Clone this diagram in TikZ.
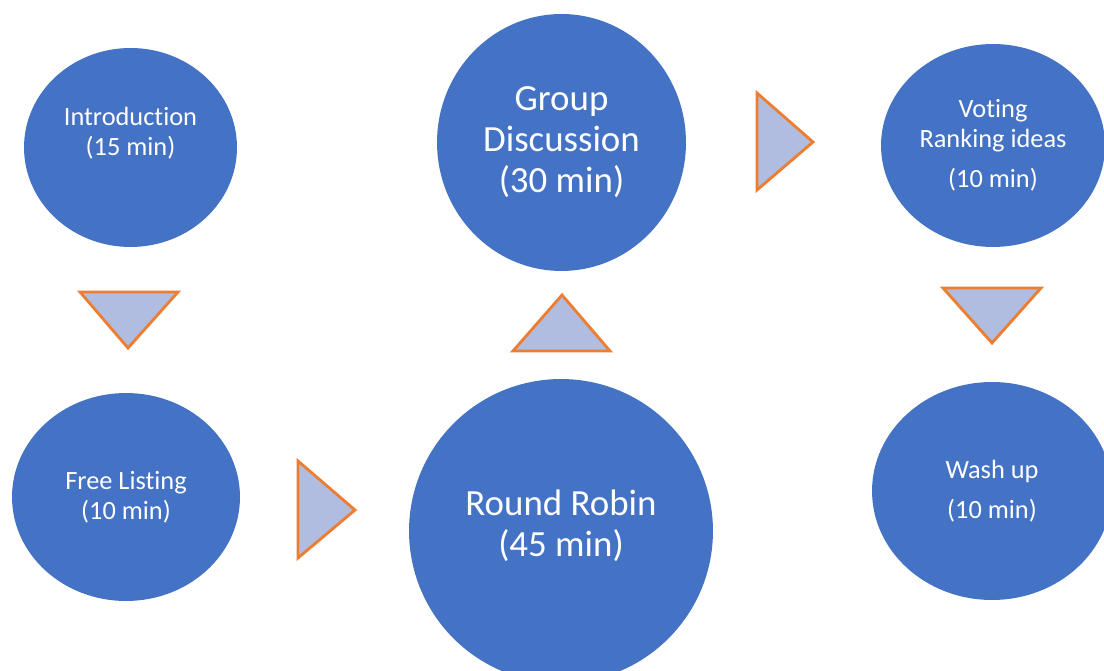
\documentclass[tikz,border=0pt]{standalone}
\usepackage{fontspec}
\setmainfont{Carlito}[Ligatures=NoCommon]
\usetikzlibrary{shapes.geometric}
\definecolor{stageblue}{HTML}{4472C4}
\definecolor{pointerfill}{HTML}{B0BDE0}
\definecolor{pointerline}{HTML}{ED7D31}
\tikzset{
  stage/.style={ellipse,fill=stageblue,text=white,inner sep=0pt,align=center,font=\fontsize{15}{17}\selectfont},
  bigstage/.style={stage,font=\fontsize{21}{23.3}\selectfont},
  pointer/.style={draw=pointerline,fill=pointerfill,line width=1.6pt}
}
\begin{document}
\begin{tikzpicture}[x=0.02cm,y=-0.02cm]
\clip (0,0) rectangle (1104,671);
% stages of the session
\node[stage,minimum width=4.26cm,minimum height=3.98cm,text depth=0.64cm] (intro) at (130.5,147.5) {Introduction\\(15 min)};
\node[stage,minimum width=4.56cm,minimum height=4.16cm] (free) at (126,497) {Free Listing\\(10 min)};
\node[bigstage,minimum width=4.98cm,minimum height=5.14cm] (group) at (561.5,142.5) {Group\\Discussion\\(30 min)};
\node[bigstage,minimum width=6.08cm,minimum height=6.08cm,text depth=0.3cm] (robin) at (561,531) {Round Robin\\(45 min)};
\node[stage,minimum width=4.48cm,minimum height=4.06cm] (voting) at (993,145.5) {Voting\\Ranking ideas\\[6pt](10 min)};
\node[stage,minimum width=4.8cm,minimum height=4.36cm] (washup) at (992,491) {Wash up\\[6pt](10 min)};
% pointers between stages
\draw[pointer] (80,292) -- (178,292) -- (128,348) -- cycle;
\draw[pointer] (298,461) -- (355,510) -- (298,558) -- cycle;
\draw[pointer] (513,351) -- (562,295) -- (610,351) -- cycle;
\draw[pointer] (757,93) -- (813,142) -- (757,190) -- cycle;
\draw[pointer] (943,288) -- (1041,288) -- (992,343) -- cycle;
\end{tikzpicture}
\end{document}
